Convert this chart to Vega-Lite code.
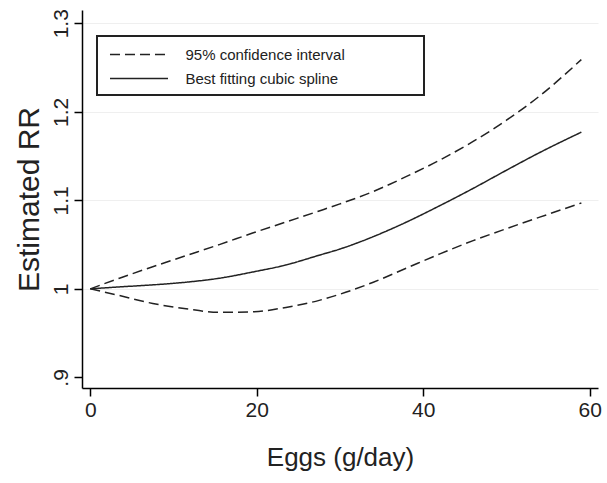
{
  "$schema": "https://vega.github.io/schema/vega-lite/v6.json",
  "width": 516,
  "height": 378,
  "autosize": {"type": "none"},
  "padding": {"left": 82, "top": 10, "right": 9, "bottom": 95},
  "config": {
    "font": "Liberation Sans",
    "view": {"stroke": null},
    "legend": {"strokeWidth": 2},
    "axis": {"domainColor": "#000", "tickColor": "#000", "domainWidth": 1.5, "tickWidth": 1.5, "labelColor": "#222", "titleColor": "#222", "titleFontWeight": "normal"}
  },
  "data": {
    "values": [
      {"x": 0, "rr": 1.0, "curve": "upper", "type": "95% confidence interval"},
      {"x": 3.5, "rr": 1.012, "curve": "upper", "type": "95% confidence interval"},
      {"x": 7.5, "rr": 1.025, "curve": "upper", "type": "95% confidence interval"},
      {"x": 11.5, "rr": 1.0375, "curve": "upper", "type": "95% confidence interval"},
      {"x": 15.5, "rr": 1.050, "curve": "upper", "type": "95% confidence interval"},
      {"x": 19.5, "rr": 1.063, "curve": "upper", "type": "95% confidence interval"},
      {"x": 23.5, "rr": 1.0755, "curve": "upper", "type": "95% confidence interval"},
      {"x": 27.5, "rr": 1.088, "curve": "upper", "type": "95% confidence interval"},
      {"x": 30, "rr": 1.096, "curve": "upper", "type": "95% confidence interval"},
      {"x": 34, "rr": 1.110, "curve": "upper", "type": "95% confidence interval"},
      {"x": 38, "rr": 1.127, "curve": "upper", "type": "95% confidence interval"},
      {"x": 42, "rr": 1.1455, "curve": "upper", "type": "95% confidence interval"},
      {"x": 46, "rr": 1.1665, "curve": "upper", "type": "95% confidence interval"},
      {"x": 50, "rr": 1.1905, "curve": "upper", "type": "95% confidence interval"},
      {"x": 54, "rr": 1.218, "curve": "upper", "type": "95% confidence interval"},
      {"x": 59, "rr": 1.259, "curve": "upper", "type": "95% confidence interval"},
      {"x": 0, "rr": 1.0, "curve": "fit", "type": "Best fitting cubic spline"},
      {"x": 3.5, "rr": 1.0022, "curve": "fit", "type": "Best fitting cubic spline"},
      {"x": 7.5, "rr": 1.0045, "curve": "fit", "type": "Best fitting cubic spline"},
      {"x": 11.5, "rr": 1.0075, "curve": "fit", "type": "Best fitting cubic spline"},
      {"x": 15.5, "rr": 1.012, "curve": "fit", "type": "Best fitting cubic spline"},
      {"x": 19.5, "rr": 1.019, "curve": "fit", "type": "Best fitting cubic spline"},
      {"x": 23.5, "rr": 1.027, "curve": "fit", "type": "Best fitting cubic spline"},
      {"x": 27.5, "rr": 1.038, "curve": "fit", "type": "Best fitting cubic spline"},
      {"x": 30, "rr": 1.045, "curve": "fit", "type": "Best fitting cubic spline"},
      {"x": 34, "rr": 1.059, "curve": "fit", "type": "Best fitting cubic spline"},
      {"x": 38, "rr": 1.0755, "curve": "fit", "type": "Best fitting cubic spline"},
      {"x": 42, "rr": 1.094, "curve": "fit", "type": "Best fitting cubic spline"},
      {"x": 46, "rr": 1.1135, "curve": "fit", "type": "Best fitting cubic spline"},
      {"x": 50, "rr": 1.134, "curve": "fit", "type": "Best fitting cubic spline"},
      {"x": 54, "rr": 1.154, "curve": "fit", "type": "Best fitting cubic spline"},
      {"x": 59, "rr": 1.177, "curve": "fit", "type": "Best fitting cubic spline"},
      {"x": 0, "rr": 1.0, "curve": "lower", "type": "95% confidence interval"},
      {"x": 3.5, "rr": 0.9924, "curve": "lower", "type": "95% confidence interval"},
      {"x": 7.5, "rr": 0.9835, "curve": "lower", "type": "95% confidence interval"},
      {"x": 11.5, "rr": 0.9775, "curve": "lower", "type": "95% confidence interval"},
      {"x": 15.5, "rr": 0.9735, "curve": "lower", "type": "95% confidence interval"},
      {"x": 19.5, "rr": 0.974, "curve": "lower", "type": "95% confidence interval"},
      {"x": 23.5, "rr": 0.979, "curve": "lower", "type": "95% confidence interval"},
      {"x": 27.5, "rr": 0.987, "curve": "lower", "type": "95% confidence interval"},
      {"x": 30, "rr": 0.994, "curve": "lower", "type": "95% confidence interval"},
      {"x": 34, "rr": 1.0075, "curve": "lower", "type": "95% confidence interval"},
      {"x": 38, "rr": 1.0235, "curve": "lower", "type": "95% confidence interval"},
      {"x": 42, "rr": 1.0395, "curve": "lower", "type": "95% confidence interval"},
      {"x": 46, "rr": 1.0545, "curve": "lower", "type": "95% confidence interval"},
      {"x": 50, "rr": 1.068, "curve": "lower", "type": "95% confidence interval"},
      {"x": 54, "rr": 1.081, "curve": "lower", "type": "95% confidence interval"},
      {"x": 59, "rr": 1.097, "curve": "lower", "type": "95% confidence interval"}
    ]
  },
  "mark": {"type": "line", "interpolate": "monotone", "strokeWidth": 1.5, "color": "#222"},
  "encoding": {
    "x": {
      "field": "x", "type": "quantitative",
      "scale": {"domain": [-1, 61], "nice": false, "zero": false},
      "axis": {"values": [0, 20, 40, 60], "title": "Eggs (g/day)", "titleFontSize": 26, "labelFontSize": 21, "tickSize": 8, "labelPadding": 3, "titlePadding": 24, "grid": false}
    },
    "y": {
      "field": "rr", "type": "quantitative",
      "scale": {"domain": [0.888, 1.315], "nice": false, "zero": false},
      "axis": {
        "values": [0.9, 1, 1.1, 1.2, 1.3],
        "labelExpr": "datum.value < 0.95 ? '.9' : format(datum.value, '.1~f')",
        "labelAngle": -90, "labelAlign": "center", "labelBaseline": "bottom",
        "labelFontSize": 21, "tickSize": 8, "labelPadding": 3,
        "title": "Estimated RR", "titleFontSize": 30, "titlePadding": 6,
        "grid": true, "gridWidth": 1,
        "gridColor": {"condition": {"test": "datum.value < 0.95", "value": "transparent"}, "value": "#efefef"}
      }
    },
    "detail": {"field": "curve"},
    "strokeDash": {
      "field": "type", "type": "nominal",
      "scale": {"domain": ["95% confidence interval", "Best fitting cubic spline"], "range": [[10, 5], [1, 0]]},
      "legend": {
        "orient": "none", "legendX": 15, "legendY": 26, "title": null,
        "padding": 8, "strokeColor": "#222", "fillColor": "white",
        "symbolType": "M-3,0H3", "symbolSize": 374, "symbolStrokeWidth": 1.5, "symbolStrokeColor": "#222",
        "symbolOffset": 23.5, "labelOffset": 36, "labelFontSize": 15, "labelColor": "#222", "labelLimit": 600,
        "rowPadding": 5,
        "labelExpr": "datum.label + '\u00a0\u00a0\u00a0\u00a0\u00a0\u00a0\u00a0\u00a0\u00a0\u00a0\u00a0\u00a0\u00a0\u00a0\u00a0\u00a0\u00a0\u200b'"
      }
    }
  }
}
